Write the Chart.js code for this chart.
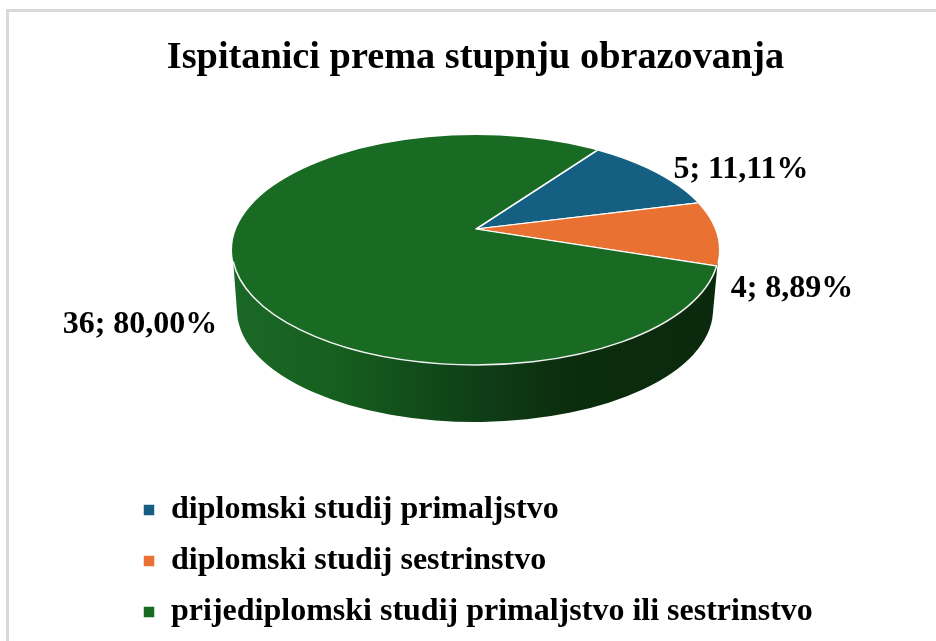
<!DOCTYPE html>
<html>
<head>
<meta charset="utf-8">
<title>Ispitanici prema stupnju obrazovanja</title>
<script src="https://cdn.jsdelivr.net/npm/chart.js@4/dist/chart.umd.min.js"></script>
<style>
  html, body { margin: 0; padding: 0; background: #fff; overflow: hidden; }
  #frame { position: absolute; left: 6px; top: 9px; width: 940px; height: 640px; border-left: 3px solid #d9d9d9; border-top: 3px solid #d9d9d9; }
  #myChart { position: absolute; left: 0; top: 0; }
</style>
</head>
<body>
<div id="frame"></div>
<canvas id="myChart" width="936" height="641"></canvas>
<script>
const titleText = "Ispitanici prema stupnju obrazovanja";
const categories = [
  "diplomski studij primaljstvo",
  "diplomski studij sestrinstvo",
  "prijediplomski studij primaljstvo ili sestrinstvo",
];
const counts = [5, 4, 36];
const colors = ["#156082", "#E97132", "#196B24"];

const fontFamily = "'Liberation Serif', 'Times New Roman', serif";

// the tilted disc as it sits on the page
const disc = { cx: 475.5, cy: 250, rx: 243.5, ry: 115, apexX: 476, apexY: 229 };
const base = { cx: 475, cy: 310, rx: 238, ry: 112 };
const labelSpots = [[741, 170], [792, 289], [140, 325]];

function discPath(ctx, d) {
  ctx.beginPath();
  ctx.ellipse(d.cx, d.cy, d.rx, d.ry, 0, 0, Math.PI * 2);
}

// side wall under the disc, then squash the library's arcs into the ellipse
const tiltPlugin = {
  id: "tilt",
  beforeDatasetsDraw(chart) {
    const ctx = chart.ctx;
    const arc = chart.getDatasetMeta(0).data[0];

    const wall = ctx.createLinearGradient(disc.cx - disc.rx, 0, disc.cx + disc.rx, 0);
    wall.addColorStop(0, "#1a6827");
    wall.addColorStop(0.2, "#17601f");
    wall.addColorStop(0.4, "#114a1a");
    wall.addColorStop(0.55, "#0e3a14");
    wall.addColorStop(0.7, "#0c2c0e");
    wall.addColorStop(1, "#0b2a0d");
    ctx.save();
    ctx.fillStyle = wall;
    ctx.beginPath();
    ctx.ellipse(disc.cx, disc.cy, disc.rx, disc.ry, 0, 0.1, Math.PI - 0.1);
    ctx.ellipse(base.cx, base.cy, base.rx, base.ry, 0, Math.PI - 0.03, 0.03, true);
    ctx.closePath();
    ctx.fill();
    ctx.restore();

    const sx = 310 / arc.outerRadius;
    const sy = sx * disc.ry / disc.rx;
    ctx.save();
    discPath(ctx, disc);
    ctx.clip();
    ctx.translate(disc.apexX, disc.apexY);
    ctx.scale(sx, sy);
    ctx.translate(-arc.x, -arc.y);
  },
  afterDatasetsDraw(chart) {
    const ctx = chart.ctx;
    ctx.restore();

    // white rim along the front
    ctx.save();
    ctx.strokeStyle = "#f2f2f2";
    ctx.lineWidth = 1.5;
    ctx.beginPath();
    ctx.ellipse(disc.cx, disc.cy, disc.rx, disc.ry, 0, 0.14, Math.PI - 0.1);
    ctx.stroke();
    ctx.restore();

    // labels: "count; percent"
    const total = counts.reduce((s, v) => s + v, 0);
    ctx.save();
    ctx.fillStyle = "#000";
    ctx.font = "bold 32px " + fontFamily;
    ctx.textAlign = "center";
    ctx.textBaseline = "middle";
    counts.forEach((v, i) => {
      const pct = ((v / total) * 100).toFixed(2).replace(".", ",");
      ctx.fillText(v + "; " + pct + "%", labelSpots[i][0], labelSpots[i][1]);
    });
    ctx.restore();
  },
};

new Chart(document.getElementById("myChart"), {
  type: "pie",
  data: {
    labels: categories,
    datasets: [
      {
        data: counts,
        backgroundColor: colors,
        borderColor: "#ffffff",
        borderWidth: 1.5,
      },
    ],
  },
  options: {
    responsive: false,
    animation: false,
    rotation: 36,
    layout: { padding: { left: 124, right: 109, top: 35, bottom: 3 } },
    plugins: {
      title: {
        display: true,
        text: titleText,
        color: "#000",
        font: { family: fontFamily, size: 38.3, weight: "bold" },
        padding: { top: 0, bottom: 10 },
      },
      legend: {
        position: "bottom",
        align: "start",
        labels: {
          color: "#000",
          font: { family: fontFamily, size: 32, weight: "bold" },
          boxWidth: 12,
          boxHeight: 12,
          padding: 19,
        },
      },
      tooltip: { enabled: false },
    },
  },
  plugins: [tiltPlugin],
});
</script>
</body>
</html>
